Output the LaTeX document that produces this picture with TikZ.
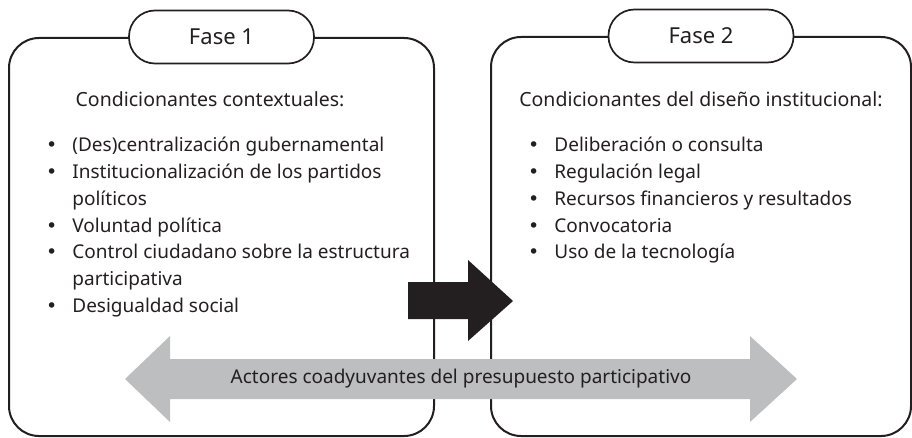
\documentclass[tikz,border=0pt]{standalone}
\usepackage{fontspec}
\setmainfont{Noto Sans}
\newfontfamily\simbolos{DejaVu Sans}
\usetikzlibrary{positioning}
\definecolor{tinta}{HTML}{231F20}
\definecolor{grisflecha}{HTML}{BCBEC0}
\newcommand{\vineta}{{\simbolos •}}

\begin{document}
\begin{tikzpicture}[x=1pt,y=-1pt]
	\tikzstyle{fase} = [rectangle, draw=tinta, line width=2pt, rounded corners=30pt, inner sep=0pt, anchor=north west];
	\tikzstyle{titulo} = [rectangle, draw=tinta, line width=1.7pt, fill=white, rounded corners=26pt, minimum width=185pt, minimum height=53pt, font=\fontsize{22}{26}\selectfont, text=tinta];
	\tikzstyle{encabezado} = [font=\fontsize{19.5}{24}\selectfont, text=tinta, inner sep=0pt, anchor=base];
	\tikzstyle{lista} = [font=\fontsize{19}{26.7}\selectfont, text=tinta, inner sep=0pt, anchor=base west];
	\useasboundingbox (0,0) rectangle (912,438);

	% marcos de las dos fases
	\draw node [fase, minimum width=425pt, minimum height=398pt] at (8,37) (caja1){};
	\draw node [fase, minimum width=420pt, minimum height=399pt] at (490,36) (caja2){};
	\draw node [titulo] at (caja1.north) (fase1){Fase 1};
	\draw node [titulo] at (caja2.north) (fase2){Fase 2};

	\draw node [encabezado] at (210,107) (cond1){Condicionantes contextuales:};
	\draw node [encabezado] at (701,107) (cond2){Condicionantes del diseño institucional:};

	\draw node [lista] at (46,152) (lista1){\begin{tabular}[t]{@{}l@{\hspace{15pt}}l@{}}
		\vineta & (Des)centralización gubernamental\\
		\vineta & Institucionalización de los partidos\\
		& políticos\\
		\vineta & Voluntad política\\
		\vineta & Control ciudadano sobre la estructura\\
		& participativa\\
		\vineta & Desigualdad social
	\end{tabular}};
	\draw node [lista] at (528,152) (lista2){\begin{tabular}[t]{@{}l@{\hspace{15pt}}l@{}}
		\vineta & Deliberación o consulta\\
		\vineta & Regulación legal\\
		\vineta & Recursos financieros y resultados\\
		\vineta & Convocatoria\\
		\vineta & Uso de la tecnología
	\end{tabular}};

	% flecha entre fases
	\fill [tinta] (408,282) -- (468,282) -- (468,260) -- (513,301) -- (468,341) -- (468,319) -- (408,319) -- cycle;

	% actores
	\fill [grisflecha] (125,379) -- (170,336) -- (170,359) -- (750,359) -- (750,336) -- (797,379) -- (750,422) -- (750,399) -- (170,399) -- (170,422) -- cycle;
	\draw node [encabezado, anchor=center, font=\fontsize{19}{22}\selectfont] at (461,379) (actores){Actores coadyuvantes del presupuesto participativo};
\end{tikzpicture}
\end{document}
